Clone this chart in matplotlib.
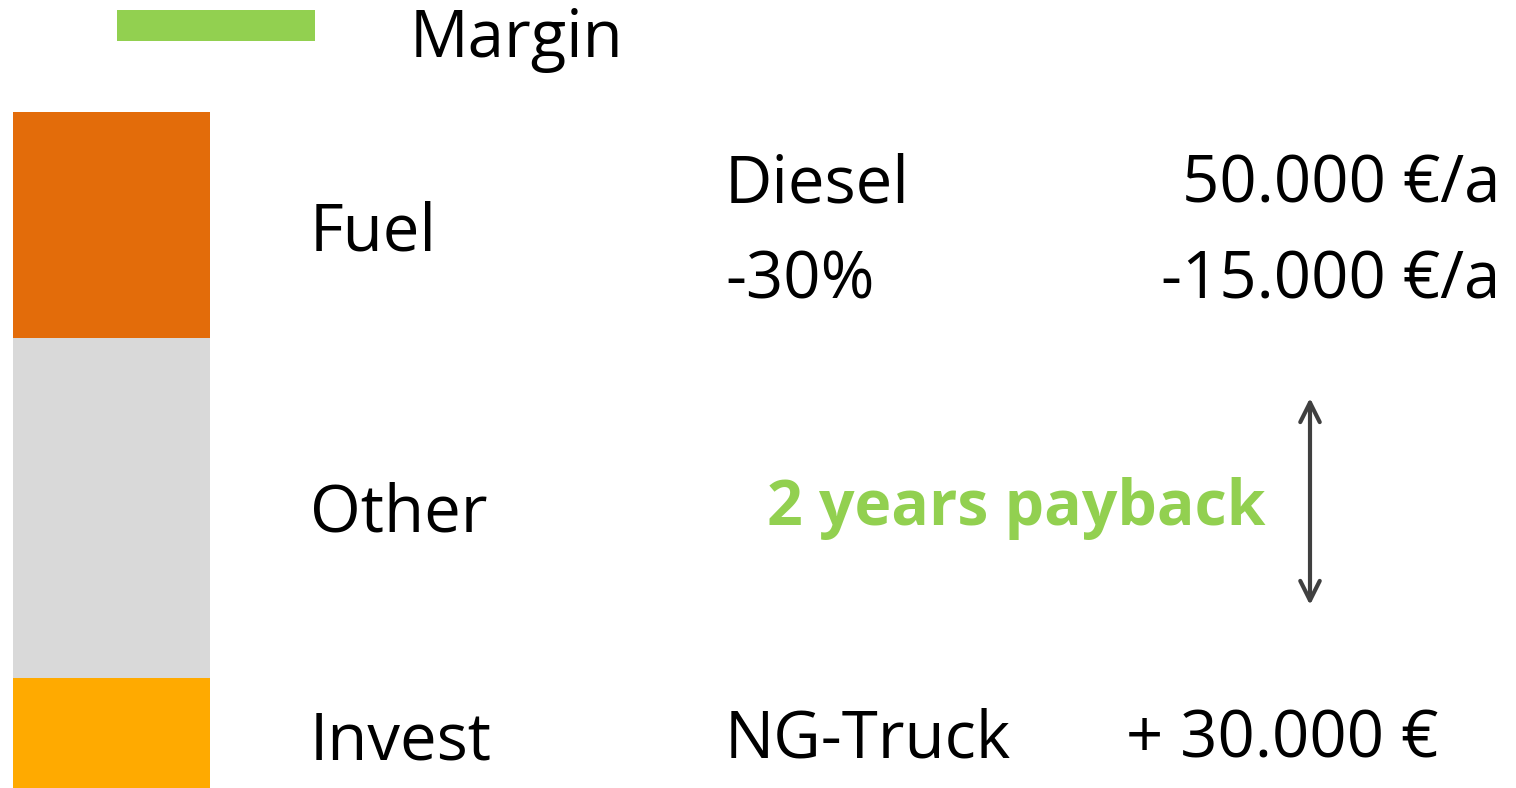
import matplotlib.pyplot as plt

# cost stack (bottom to top), heights in chart units
segments = ['Invest', 'Other', 'Fuel']
heights = [110, 340, 226]
colors = ['#FFAA00', '#D9D9D9', '#E36C0A']

# margin sits above the stack, shifted right
margin_label = 'Margin'
margin_height = 31
margin_bottom = 747
margin_color = '#92D050'

# right-hand text
fuel_rows = [('Diesel', '50.000 €/a'), ('-30%', '-15.000 €/a')]
invest_row = ('NG-Truck', '+ 30.000 €')
payback = '2 years payback'

plt.rcParams['font.family'] = ['Open Sans', 'DejaVu Sans']

fig = plt.figure(figsize=(15.16, 7.88), dpi=100)
ax = fig.add_axes([0, 0, 1, 1])
ax.set_xlim(0, 1516)
ax.set_ylim(0, 788)
ax.axis('off')

fs = 47

# stacked bar
bottom = 0
label_y = [28, 256, 538]
for name, h, c, ly in zip(segments, heights, colors, label_y):
    ax.bar(111.5, h, width=197, bottom=bottom, color=c, linewidth=0)
    ax.text(310, ly, name, fontsize=fs, va='baseline', ha='left')
    bottom += h

# margin piece
ax.bar(216, margin_height, width=198, bottom=margin_bottom, color=margin_color, linewidth=0)
ax.text(410, 731, margin_label, fontsize=fs, va='baseline', ha='left')

# fuel detail
for (left, right), by in zip(fuel_rows, [586, 490]):
    ax.text(725, by, left, fontsize=fs, va='baseline', ha='left')
    ax.text(1500, by, right, fontsize=fs, va='baseline', ha='right')

# invest detail
ax.text(725, 30, invest_row[0], fontsize=fs, va='baseline', ha='left')
ax.text(1438, 30, invest_row[1], fontsize=fs, va='baseline', ha='right')

# payback
ax.text(1016, 263, payback, fontsize=45, fontweight='bold', color=margin_color,
        va='baseline', ha='center')
ax.annotate('', xy=(1310, 390), xytext=(1310, 183),
            arrowprops=dict(arrowstyle='<->', color='#404040', lw=3,
                            mutation_scale=35, shrinkA=0, shrinkB=0))

fig.savefig('out.png', dpi=100)
